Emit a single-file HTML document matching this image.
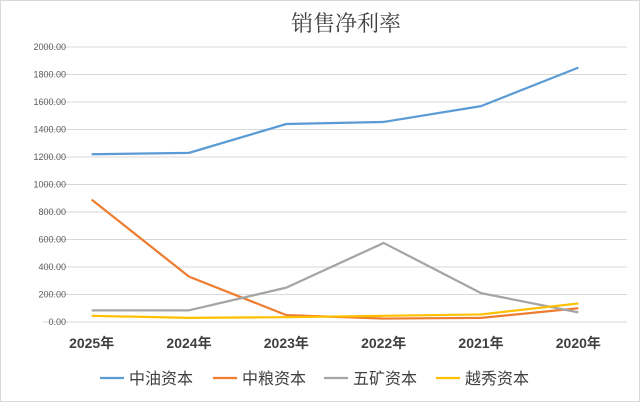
<!DOCTYPE html>
<html><head><meta charset="utf-8"><style>
body{margin:0;background:#fff;}
svg{display:block;font-family:"Liberation Sans","Noto Sans CJK SC",sans-serif;}
</style></head><body>
<svg id="c" width="640" height="402">
<rect x="0.5" y="0.5" width="639" height="401" fill="#fff" stroke="#d9d9d9"/>
<text x="346" y="31" text-anchor="middle" font-size="22" fill="#404040" font-family="Noto Serif CJK SC, Liberation Serif, serif">销售净利率</text>
<g id="grid"></g><g id="lines"></g><g id="legend"></g>
</svg>
<script>
const categories=["2025年","2024年","2023年","2022年","2021年","2020年"];
const yTicks=[0,200,400,600,800,1000,1200,1400,1600,1800,2000];
const seriesNames=["中油资本","中粮资本","五矿资本","越秀资本"];
const seriesColors=["#5b9bd5","#ed7d31","#a5a5a5","#ffc000"];
const zhongyou=[1220,1230,1440,1455,1570,1850];
const zhongliang=[890,330,50,25,30,100];
const wukuang=[85,85,250,575,210,70];
const yuexiu=[45,30,35,45,55,135];
const series=[zhongyou,zhongliang,wukuang,yuexiu];
const NS="http://www.w3.org/2000/svg";
const x0=43,x1=627,yTop=47,yBot=322;
const xs=i=>x0+(x1-x0)/categories.length*(i+0.5);
const ys=v=>yBot-(v/2000)*(yBot-yTop);
function mk(t,a,p){const e=document.createElementNS(NS,t);for(const k in a)e.setAttribute(k,a[k]);p.appendChild(e);return e;}
const g=document.getElementById('grid');
yTicks.forEach(v=>{
 const l=mk('line',{x1:x0,x2:x1,y1:ys(v),y2:ys(v),stroke:'#d9d9d9','stroke-width':1},g);
 
 
 const t=mk('text',{x:66,y:ys(v)+3,'text-anchor':'end','font-size':9,fill:'#595959'},g);
 t.textContent=v.toFixed(2);
 
 
});
categories.forEach((c,i)=>{
 const t=mk('text',{x:xs(i),y:348,'text-anchor':'middle','font-size':14,'font-weight':'bold',fill:'#404040'},g);
 t.textContent=c;
 
 
});
const L=document.getElementById('lines');
series.forEach((s,k)=>{
 const p=mk('polyline',{points:s.map((v,i)=>xs(i)+','+ys(v)).join(' '),fill:'none',stroke:seriesColors[k],'stroke-width':2.25,'stroke-linejoin':'round'},L);
 
 
});
const lg=document.getElementById('legend');
const lx=[100,213,324,436];
seriesNames.forEach((n,k)=>{
 const gg=mk('g',{},lg);
 
 
 mk('line',{x1:lx[k],x2:lx[k]+24,y1:378,y2:378,stroke:seriesColors[k],'stroke-width':2.25},gg);
 const t=mk('text',{x:lx[k]+29,y:384,'font-size':16,fill:'#404040'},gg);
 t.textContent=n;
});
</script>
</body></html>
